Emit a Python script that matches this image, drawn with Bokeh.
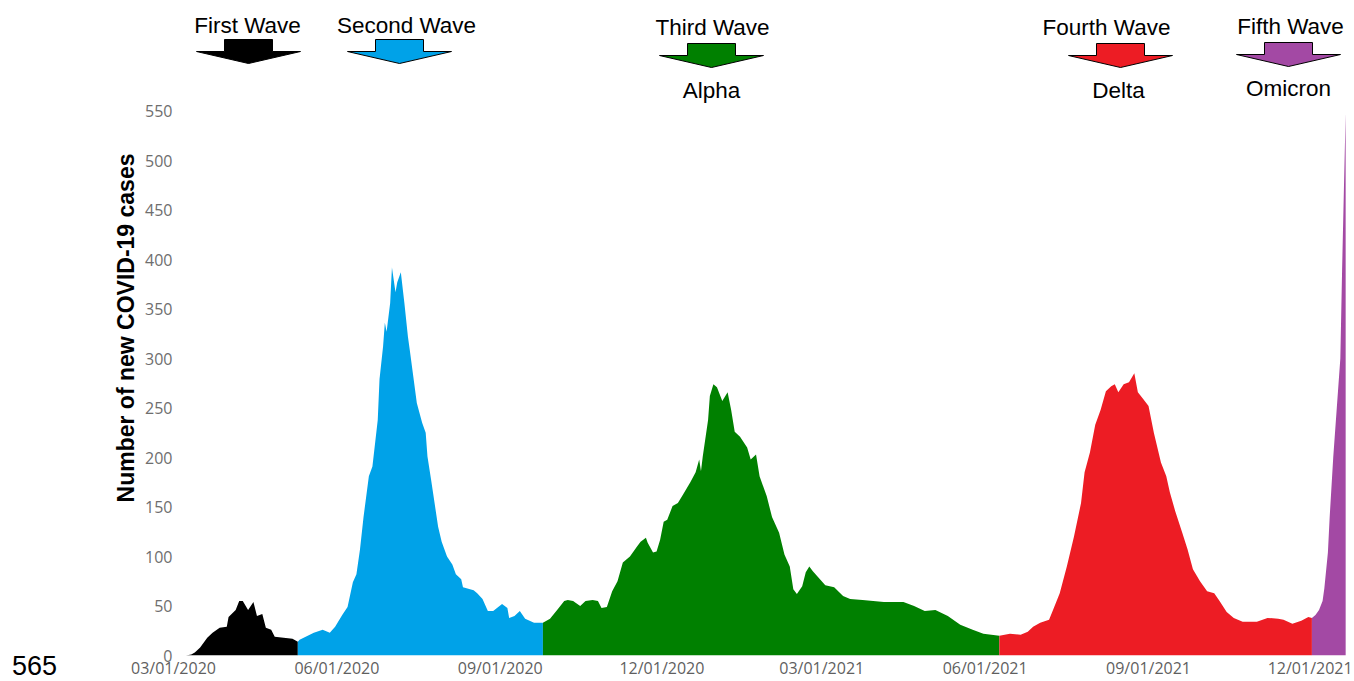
import pandas as pd
from bokeh.plotting import figure
from bokeh.layouts import row
from bokeh.models import Range1d, FixedTicker, DatetimeTickFormatter, ColumnDataSource, Div
from bokeh.core.properties import value
from bokeh.embed import file_html
from bokeh.resources import INLINE

# ---------------- data ----------------
DAY0 = "2020-03-01"   # day offsets below are counted from this date

first_days = [7, 10, 12, 15, 19, 22, 26, 30, 31, 35, 37, 39, 42, 45, 47, 50, 52, 55, 57, 62, 67, 70]
first_cases = [0, 1, 3, 8, 18, 23, 28, 29, 39, 46, 55, 55, 46, 54, 40, 42, 28, 26, 19, 18, 17, 14]

second_days = [70, 71, 79, 84, 88, 91, 95, 98, 101, 103, 105, 107, 110, 112, 115, 116, 118, 119, 120, 122,
               123, 125, 126, 128, 130, 132, 133, 135, 137, 140, 142, 143, 145, 147, 149, 151, 154, 157, 159, 162,
               163, 169, 171, 174, 177, 180, 185, 188, 189, 192, 195, 198, 203, 208]
second_cases = [14, 16, 23, 26, 23, 29, 41, 49, 74, 82, 107, 140, 181, 191, 238, 279, 312, 336, 327, 356,
                392, 367, 377, 387, 356, 322, 309, 282, 255, 235, 225, 201, 178, 154, 130, 115, 100, 92, 82, 77,
                69, 66, 63, 57, 45, 45, 52, 48, 38, 40, 45, 37, 33, 33]

third_days = [208, 212, 216, 220, 222, 225, 229, 232, 236, 239, 241, 244, 247, 250, 253, 257, 261, 263, 266, 267,
              270, 272, 274, 276, 278, 281, 284, 287, 291, 294, 296, 297, 298, 301, 302, 304, 306, 309, 312, 314,
              316, 319, 323, 325, 328, 330, 334, 337, 341, 344, 347, 349, 351, 354, 356, 358, 360, 364, 367, 372,
              377, 381, 388, 394, 400, 405, 411, 417, 423, 429, 436, 443, 450, 456, 465]
third_cases = [33, 37, 46, 55, 56, 55, 50, 55, 56, 55, 48, 49, 65, 75, 94, 100, 110, 115, 119, 114,
               104, 105, 117, 135, 137, 151, 154, 163, 175, 185, 198, 186, 201, 238, 262, 274, 271, 257, 266, 248,
               226, 221, 210, 198, 203, 181, 161, 140, 124, 102, 90, 67, 62, 70, 84, 90, 85, 77, 71, 69,
               60, 57, 56, 55, 54, 54, 54, 50, 45, 46, 40, 31, 26, 22, 20]

fourth_days = [465, 471, 477, 481, 484, 488, 493, 495, 499, 503, 507, 511, 513, 516, 519, 522, 525, 528, 530, 532,
               535, 538, 541, 543, 546, 549, 552, 556, 559, 561, 564, 568, 571, 574, 578, 582, 586, 589, 593, 597,
               602, 610, 616, 622, 625, 630, 635, 639, 641]
fourth_cases = [20, 22, 21, 24, 29, 33, 36, 45, 63, 90, 120, 154, 185, 205, 233, 248, 267, 272, 274, 266,
                274, 276, 285, 266, 259, 252, 225, 195, 181, 165, 146, 124, 107, 87, 75, 65, 63, 55, 44, 38,
                34, 34, 38, 37, 36, 32, 35, 39, 38]

fifth_days = [641, 643, 645, 647, 648, 650, 651, 653, 655, 657, 658, 659, 660]
fifth_cases = [38, 41, 46, 55, 68, 104, 140, 200, 250, 300, 390, 470, 548]

wave_names = ["First Wave", "Second Wave", "Third Wave", "Fourth Wave", "Fifth Wave"]
variant_names = ["", "", "Alpha", "Delta", "Omicron"]
wave_colors = ["#000000", "#00a2e8", "#008000", "#ed1c24", "#a349a4"]

x_tick_dates = ["2020-03-01", "2020-06-01", "2020-09-01", "2020-12-01",
                "2021-03-01", "2021-06-01", "2021-09-01", "2021-12-01"]
y_ticks = [0, 50, 100, 150, 200, 250, 300, 350, 400, 450, 500, 550]
y_title = "Number of new COVID-19 cases"
corner_note = "565"

# ---------------- layout (page pixels) ----------------
PAGE_W, PAGE_H = 1354, 681
LEFT_W = 62                      # small side column holding the corner note
MAIN_W = PAGE_W - LEFT_W
F_LEFT, F_RIGHT, F_TOP, F_BOTTOM = 173, 1348, 0, 655   # plot frame in page px
PX_PER_DAY = 1.776
PX_PER_CASE = 0.99
Y_TOP = (F_BOTTOM - F_TOP) / PX_PER_CASE

t0 = pd.Timestamp(DAY0)


def ms(ts):
    return ts.value / 1e6


def day_ms(d):
    return ms(t0 + pd.Timedelta(days=d))


def px_x(page_x):          # page pixel -> datetime ms (annotation placement)
    return day_ms((page_x - F_LEFT) / PX_PER_DAY)


def px_y(page_y):          # page pixel -> case units (annotation placement)
    return (F_BOTTOM - page_y) / PX_PER_CASE


x_start = day_ms(0)
x_end = day_ms((F_RIGHT - F_LEFT) / PX_PER_DAY)

p = figure(width=MAIN_W, height=PAGE_H, output_backend="svg", toolbar_location=None,
           x_axis_type="datetime",
           x_range=Range1d(x_start, x_end), y_range=Range1d(0, Y_TOP),
           min_border_left=F_LEFT - LEFT_W, min_border_right=PAGE_W - F_RIGHT,
           min_border_top=F_TOP, min_border_bottom=PAGE_H - F_BOTTOM)
p.margin = 0
p.outline_line_color = None
p.xgrid.grid_line_color = None
p.ygrid.grid_line_color = None
p.background_fill_color = "white"
p.border_fill_color = "white"

series = [(first_days, first_cases), (second_days, second_cases), (third_days, third_cases),
          (fourth_days, fourth_cases), (fifth_days, fifth_cases)]
for (days, cases), col in zip(series, wave_colors):
    src = ColumnDataSource(dict(x=[day_ms(d) for d in days], y=cases))
    p.varea(x="x", y1=0, y2="y", source=src, fill_color=col)

# axes
xa = p.xaxis[0]
xa.ticker = FixedTicker(ticks=[ms(pd.Timestamp(d)) for d in x_tick_dates])
fmt = "%m/%d/%Y"
xa.formatter = DatetimeTickFormatter(days=fmt, months=fmt, years=fmt, hours=fmt, minutes=fmt)
xa.axis_line_color = None
xa.major_tick_line_color = None
xa.minor_tick_line_color = None
xa.major_tick_out = 0
xa.major_tick_in = 0
xa.minor_tick_out = 0
xa.minor_tick_in = 0
xa.major_label_text_font = "Open Sans"
xa.major_label_text_font_size = "16px"
xa.major_label_text_color = "#5f5f5f"
xa.major_label_standoff = 1

ya = p.yaxis[0]
ya.ticker = FixedTicker(ticks=y_ticks)
ya.axis_line_color = None
ya.major_tick_line_color = None
ya.minor_tick_line_color = None
ya.major_tick_out = 0
ya.major_tick_in = 0
ya.minor_tick_out = 0
ya.minor_tick_in = 0
ya.major_label_text_font = "Open Sans"
ya.major_label_text_font_size = "16px"
ya.major_label_text_color = "#6e6e6e"
ya.major_label_standoff = 1
ya.axis_label = y_title
ya.axis_label_text_font = "Liberation Sans"
ya.axis_label_text_font_style = "bold"
ya.axis_label_text_font_size = "23px"
ya.axis_label_text_color = "#000000"
ya.axis_label_standoff = 3

# ---------------- wave annotations (page px) ----------------
title_pos = [(247, 25), (406, 25), (712, 27), (1106, 27), (1290, 26)]
arrow_pos = [(248, 39), (399, 39), (711, 43), (1120, 43), (1288, 42)]
variant_pos = [None, None, (711, 90), (1118, 90), (1288, 88)]

tx, ty, tt = [], [], []
for name, (x, y) in zip(wave_names, title_pos):
    tx.append(px_x(x)); ty.append(px_y(y)); tt.append(name)
for name, pos in zip(variant_names, variant_pos):
    if pos:
        tx.append(px_x(pos[0])); ty.append(px_y(pos[1])); tt.append(name)
p.text(x=tx, y=ty, text=tt, text_font=value("Liberation Sans"), text_font_size="22.5px",
       text_align="center", text_baseline="middle", text_color="#000000")

axs, ays = [], []
for (cx, top) in arrow_pos:
    shape = [(-24, 0), (24, 0), (24, 12), (52, 12), (0, 24), (-52, 12), (-24, 12)]
    axs.append([px_x(cx + dx) for dx, dy in shape])
    ays.append([px_y(top + dy) for dx, dy in shape])
p.patches(xs=axs, ys=ays, fill_color=wave_colors, line_color="#000000", line_width=1)

# ---------------- side column with the corner note ----------------
note = Div(text=('<div style="position:absolute; left:12px; top:654px; font-family:\'Liberation Sans\';'
                 ' font-size:27px; line-height:24px; color:#000;">' + corner_note + '</div>'),
           width=LEFT_W, height=PAGE_H, margin=0)

layout = row(note, p, spacing=0)
open("out.html", "w").write(file_html(layout, INLINE))
